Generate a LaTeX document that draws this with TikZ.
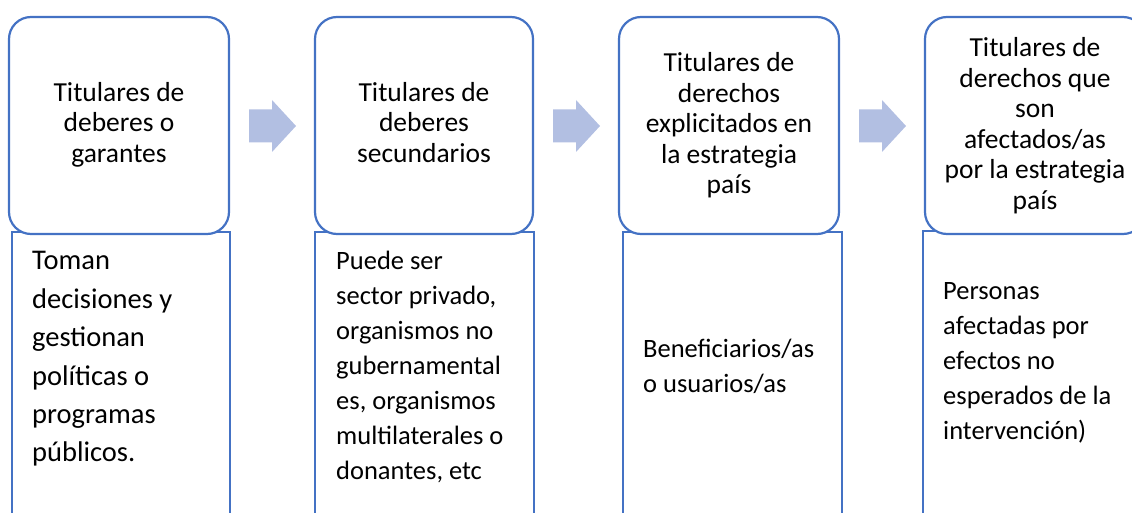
\documentclass[tikz,border=0pt]{standalone}
\usepackage{fontspec}
\setmainfont{Carlito}
\usetikzlibrary{calc}
\definecolor{bordc}{RGB}{68,114,196}
\definecolor{arrowc}{RGB}{178,191,226}
\begin{document}
\begin{tikzpicture}[x=1pt,y=-1pt,
  head/.style={draw=bordc, line width=2.2pt, fill=white, rounded corners=22pt,
    minimum width=220pt, minimum height=217pt, align=center, inner sep=0pt,
    font=\fontsize{27.5}{30.5}\selectfont},
  lowbox/.style={draw=bordc, line width=2.2pt, fill=white, anchor=north west,
    minimum height=320pt, inner sep=0pt},
  lowtext/.style={anchor=west, align=left, inner sep=0pt,
    font=\fontsize{26.5}{35}\selectfont},
  blockarrow/.pic={\fill[arrowc] (-23.5,-16.5) -- (-0.5,-16.5) -- (-0.5,-26)
    -- (23.5,0) -- (-0.5,26) -- (-0.5,16.5) -- (-23.5,16.5) -- cycle;}]
\useasboundingbox (0,0) rectangle (1132,513);
\clip (0,0) rectangle (1132,513);
% lower boxes
\node[lowbox, minimum width=218pt] (l1) at (11,231) {};
\node[lowbox, minimum width=219pt] (l2) at (314,231) {};
\node[lowbox, minimum width=219pt] (l3) at (622,231) {};
\node[lowbox, minimum width=220pt] (l4) at (922,230) {};
% header boxes
\node[head] (h1) at (119,125.5) {\raisebox{-2pt}{\begin{tabular}{@{}c@{}}Titulares de\\deberes o\\garantes\end{tabular}}};
\node[head, minimum width=218pt] (h2) at (424,125.5) {\raisebox{-2pt}{\begin{tabular}{@{}c@{}}Titulares de\\deberes\\secundarios\end{tabular}}};
\node[head] (h3) at (729,125.5) {Titulares de\\derechos\\explicitados en\\la estrategia\\país};
\node[head] (h4) at (1035,125.5) {Titulares de\\derechos que\\son\\afectados/as\\por la estrategia\\país};
% arrows
\pic at ($(h1.east)!0.5!(h2.west)+(0.5,0.5)$) {blockarrow};
\pic at ($(h2.east)!0.5!(h3.west)+(0.5,0.5)$) {blockarrow};
\pic at ($(h3.east)!0.5!(h4.west)+(0.5,0.5)$) {blockarrow};
% lower texts
\node[lowtext, font=\fontsize{28.5}{38.4}\selectfont] (t1) at (32,359)
  {Toman\\decisiones y\\gestionan\\políticas o\\programas\\públicos.};
\node[lowtext] (t2) at (336,367)
  {Puede ser\\sector privado,\\organismos no\\gubernamental\\es, organismos\\multilaterales o\\donantes, etc};
\node[lowtext] (t3) at (643,366.5) {Beneficiarios/as\\o usuarios/as};
\node[lowtext] (t4) at (943,362.5)
  {Personas\\afectadas por\\efectos no\\esperados de la\\intervención)};
\end{tikzpicture}
\end{document}
